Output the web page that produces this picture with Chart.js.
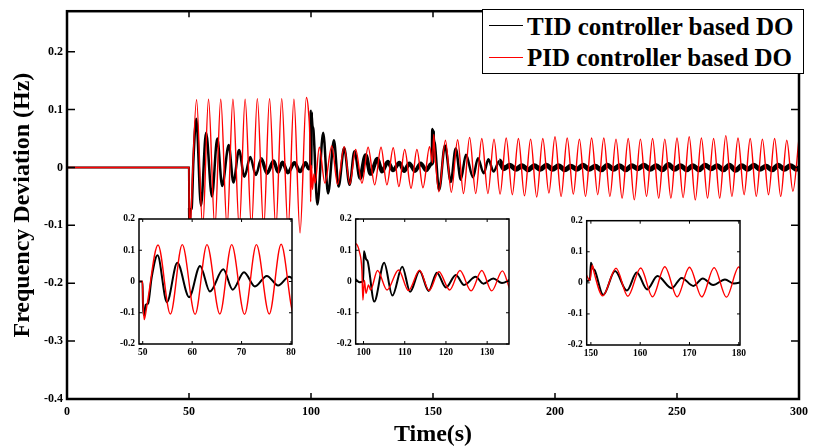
<!DOCTYPE html>
<html>
<head>
<meta charset="utf-8">
<script src="https://cdn.jsdelivr.net/npm/chart.js@4.4.0/dist/chart.umd.min.js"></script>
<style>
  html, body { margin: 0; padding: 0; background: #fff; }
  #wrap { position: relative; width: 814px; height: 447px; overflow: hidden; }
  #wrap canvas { position: absolute; left: 0; top: 0; }
  #legend {
    position: absolute; left: 482px; top: 9px; width: 320px; height: 63px;
    border: 1.5px solid #000; background: #fff;
    font: bold 25px 'Liberation Serif', 'Times New Roman', serif; color: #000;
  }
  #legend .row { position: absolute; left: 44px; line-height: 25px; white-space: nowrap; }
  #legend .swatch { position: absolute; left: 6px; width: 34px; }
</style>
</head>
<body>
<div id="wrap">
  <canvas id="main" width="814" height="447"></canvas>
  <canvas id="inset1" width="814" height="447"></canvas>
  <canvas id="inset2" width="814" height="447"></canvas>
  <canvas id="inset3" width="814" height="447"></canvas>
  <div id="legend">
    <div class="swatch" style="top:15px;border-top:1.6px solid #000"></div>
    <div class="row" style="top:4px">TID controller based DO</div>
    <div class="swatch" style="top:47px;border-top:1px solid #f00"></div>
    <div class="row" style="top:35px">PID controller based DO</div>
  </div>
</div>
<script>
// [time (s), frequency deviation (Hz)]
const tidPart1 = [[0, 0], [49.95, 0], [50.05, -0.07], [50.3, -0.108], [50.6, -0.075], [51.1, -0.07],
  [51.8, 0.012], [53.0, 0.084], [54.9, -0.066], [57.0, 0.060], [59.4, -0.050], [61.6, 0.050],
  [63.6, -0.032], [66.3, 0.039], [68.2, -0.026], [70.5, 0.030], [72.7, -0.016], [75.1, 0.018],
  [77.4, -0.013], [79.6, 0.015], [82.0, -0.010], [84.7, 0.011], [86.5, -0.008], [88.3, 0.009],
  [90.5, -0.009], [93.2, 0.008], [95.5, -0.007], [97.8, 0.008], [99.0, -0.002], [99.9, 0.0]];
const tidPart2 = [[100.1, 0.097], [100.6, 0.072], [101.0, 0.065], [102.6, -0.064], [105.0, 0.060],
  [107.0, -0.045], [109.4, 0.047], [111.3, -0.033], [113.6, 0.034], [115.8, -0.030], [117.8, 0.028],
  [120.0, -0.019], [122.4, 0.021], [124.4, -0.011], [127.2, 0.015], [129.1, -0.007], [131.5, 0.010],
  [133.6, -0.005], [136.2, 0.008], [138.2, -0.006], [140.3, 0.007], [142.6, -0.006], [145.0, 0.007],
  [147.2, -0.005], [149.2, 0.006], [149.8, 0.010]];
const tidPart3 = [[150.0, 0.065], [150.4, 0.047], [150.8, 0.040], [152.5, -0.039], [154.9, 0.038],
  [157.3, -0.025], [159.3, 0.033], [161.4, -0.021], [163.5, 0.022], [166.4, -0.017], [168.4, 0.016],
  [170.8, -0.010], [172.7, 0.014], [174.8, -0.007], [177.2, 0.011], [179.0, -0.002]];
const tidPart4 = [[181.5, 0.004], [184, -0.003], [186.5, 0.003], [189, -0.004], [191.5, 0.003],
  [194, -0.003], [196.5, 0.004], [199, -0.003], [201.5, 0.003], [204, -0.004], [206.5, 0.002],
  [209, -0.003], [211.5, 0.004], [214, -0.003], [216.5, 0.002], [219, -0.004], [221.5, 0.004],
  [224, -0.003], [226.5, 0.003], [229, -0.004], [231.5, 0.003], [234, -0.002], [236.5, 0.004],
  [239, -0.003], [241.5, 0.003], [244, -0.004], [246.5, 0.005], [249, -0.003], [251.5, 0.003],
  [254, -0.004], [256.5, 0.003], [259, -0.004], [261.5, 0.004], [264, -0.002], [266.5, 0.003],
  [269, -0.004], [271.5, 0.004], [274, -0.005], [276.5, 0.003], [279, -0.003], [281.5, 0.004],
  [284, -0.003], [286.5, 0.002], [289, -0.004], [291.5, 0.004], [294, -0.003], [296.5, 0.003],
  [299, -0.003], [300, 0.0]];

const pidPart1 = [[0, 0], [49.95, 0], [50.05, -0.06], [50.3, -0.122], [50.8, -0.082], [53.1, 0.117],
  [55.6, -0.104], [58.0, 0.118], [60.6, -0.105], [63.0, 0.118], [65.6, -0.104], [68.0, 0.118],
  [70.6, -0.105], [73.0, 0.118], [75.6, -0.104], [78.0, 0.119], [80.6, -0.105], [83.0, 0.119],
  [85.6, -0.106], [88.0, 0.119], [90.6, -0.107], [93.0, 0.118], [95.5, -0.113], [98.1, 0.121],
  [99.0, 0.095], [99.6, 0.037]];
const pidPart2 = [[99.85, -0.059], [100.2, 0.004], [100.6, -0.038], [101.2, -0.011], [101.7, -0.027],
  [103.4, 0.035], [105.7, -0.027], [108.5, 0.037], [110.9, -0.029], [113.6, 0.036], [115.9, -0.029],
  [118.3, 0.031], [120.9, -0.027], [123.4, 0.035], [126.1, -0.030], [128.7, 0.035], [131.1, -0.030],
  [133.7, 0.034], [136.0, -0.033], [138.4, 0.031], [141.0, -0.036], [143.4, 0.031], [145.9, -0.035],
  [148.6, 0.036], [149.8, 0.008]];
const pidPart3 = [[150.3, 0.057], [150.6, 0.036], [152.4, -0.042], [155.1, 0.047], [157.5, -0.043],
  [160.1, 0.048], [162.5, -0.045], [165.0, 0.052], [167.5, -0.045], [170.0, 0.050], [172.5, -0.045],
  [175.0, 0.049], [177.5, -0.046], [180.0, 0.051], [182.5, -0.047], [185.0, 0.050], [187.5, -0.049],
  [190.0, 0.049], [192.5, -0.051]];
const pidPart4 = [[195, 0.050], [197.5, -0.044], [200, 0.053], [202.5, -0.050], [205, 0.051],
  [207.5, -0.046], [210, 0.049], [212.5, -0.050], [215, 0.051], [217.5, -0.047], [220, 0.051],
  [222.5, -0.050], [225, 0.049], [227.5, -0.053], [230, 0.050], [232.5, -0.056], [235, 0.049],
  [237.5, -0.050], [240, 0.050], [242.5, -0.053], [245, 0.049], [247.5, -0.053], [250, 0.051],
  [252.5, -0.052], [255, 0.053], [257.5, -0.056], [260, 0.051], [262.5, -0.053], [265, 0.050],
  [267.5, -0.053], [270, 0.055], [272.5, -0.050], [275, 0.051], [277.5, -0.047], [280, 0.050],
  [282.5, -0.050], [285, 0.049], [287.5, -0.047], [290, 0.050], [292.5, -0.050], [295, 0.047],
  [297.5, -0.041], [300, 0.050]];

const mainTimeTicks = [0, 50, 100, 150, 200, 250, 300];
const mainFreqTicks = [-0.4, -0.3, -0.2, -0.1, 0, 0.1, 0.2];
const insetFreqTicks = [-0.2, -0.1, 0, 0.1, 0.2];
const insetTimeTicks = [[50, 60, 70, 80], [100, 110, 120, 130], [150, 160, 170, 180]];
const insetTimeRanges = [[49.25, 80.2], [98.1, 135.3], [149.15, 180.25]];

const toXY = parts => parts.flat().map(([x, y]) => ({ x, y }));
const tidSeries = toXY([tidPart1, tidPart2, tidPart3, tidPart4]);
const pidSeries = toXY([pidPart1, pidPart2, pidPart3, pidPart4]);

// styling
const FONT = "'Liberation Serif', 'Times New Roman', serif";
// [from s, to s, line width] for the black trace in the main plot
const tidWidths = [[0, 50, 2], [78, 100, 3.5], [118, 150, 4], [177, 301, 5]];
const insetBoxes = [
  { left: 139, right: 292, top: 219, bottom: 344 },
  { left: 355.7, right: 509, top: 219, bottom: 344 },
  { left: 586.7, right: 740, top: 220.7, bottom: 345 }
];

const boxFrame = {
  id: 'boxFrame',
  beforeDatasetsDraw(chart, args, opts) {
    if (!opts.fill) return;
    const a = chart.chartArea;
    chart.ctx.save();
    chart.ctx.fillStyle = opts.fill;
    chart.ctx.fillRect(a.left, a.top, a.right - a.left, a.bottom - a.top);
    chart.ctx.restore();
  },
  afterDraw(chart, args, opts) {
    const { ctx, chartArea: a, scales: { x, y } } = chart;
    ctx.save();
    ctx.strokeStyle = '#000';
    ctx.lineWidth = opts.tickWidth;
    ctx.beginPath();
    x.ticks.forEach(t => {
      const px = x.getPixelForValue(t.value);
      ctx.moveTo(px, a.bottom); ctx.lineTo(px, a.bottom - opts.tickX);
      ctx.moveTo(px, a.top); ctx.lineTo(px, a.top + opts.tickX);
    });
    y.ticks.forEach(t => {
      const py = y.getPixelForValue(t.value);
      ctx.moveTo(a.left, py); ctx.lineTo(a.left + opts.tickY, py);
      ctx.moveTo(a.right, py); ctx.lineTo(a.right - opts.tickY, py);
    });
    ctx.stroke();
    ctx.lineWidth = opts.lineWidth;
    ctx.strokeRect(a.left, a.top, a.right - a.left, a.bottom - a.top);
    ctx.restore();
  }
};

// dataset 0 is painted last, so the thin red trace sits over the black one
function datasets(inset) {
  return [
    {
      label: 'PID controller based DO', data: pidSeries,
      borderColor: '#ff0000', borderWidth: 1.4,
      pointRadius: 0, cubicInterpolationMode: 'monotone'
    },
    {
      label: 'TID controller based DO', data: tidSeries,
      borderColor: '#000000', borderWidth: inset ? 2 : 2.5,
      pointRadius: 0, cubicInterpolationMode: 'monotone',
      segment: {
        borderWidth: ctx => {
          if (inset) return 2;
          const t = ctx.p0.parsed.x;
          const band = tidWidths.find(b => t >= b[0] && t < b[1]);
          return band ? band[2] : 2.5;
        }
      }
    }
  ];
}

function axisTicks(size, padding) {
  return {
    padding, color: '#000', autoSkip: false, maxRotation: 0,
    font: { family: FONT, size, weight: 'bold' },
    callback: v => String(v)
  };
}

new Chart(document.getElementById('main'), {
  type: 'line',
  data: { datasets: datasets(false) },
  options: {
    responsive: false, animation: false, devicePixelRatio: 1,
    layout: { padding: { left: 0, top: 9, right: 10, bottom: 0 } },
    plugins: {
      legend: { display: false }, tooltip: { enabled: false },
      boxFrame: { lineWidth: 2.5, tickWidth: 1.5, tickX: 6, tickY: 8 }
    },
    scales: {
      x: {
        type: 'linear', min: 0, max: 300,
        afterBuildTicks: s => { s.ticks = mainTimeTicks.map(v => ({ value: v })); },
        afterFit: s => { s.height = 48; },
        grid: { display: false, drawTicks: false }, border: { display: false },
        ticks: axisTicks(12, 6),
        title: { display: true, text: 'Time(s)', color: '#000', padding: 0,
          font: { family: FONT, size: 24, weight: 'bold', lineHeight: 1 } }
      },
      y: {
        type: 'linear', min: -0.4, max: 0.27,
        afterBuildTicks: s => { s.ticks = mainFreqTicks.map(v => ({ value: v })); },
        afterFit: s => { s.width = 67; },
        grid: { display: false, drawTicks: false }, border: { display: false },
        ticks: axisTicks(12, 4),
        title: { display: true, text: 'Frequency Deviation (Hz)', color: '#000',
          padding: { top: 11, bottom: 0 },
          font: { family: FONT, size: 24, weight: 'bold', lineHeight: 1 } }
      }
    }
  },
  plugins: [boxFrame]
});

insetBoxes.forEach((box, i) => {
  new Chart(document.getElementById('inset' + (i + 1)), {
    type: 'line',
    data: { datasets: datasets(true) },
    options: {
      responsive: false, animation: false, devicePixelRatio: 1,
      layout: { padding: { left: box.left - 30, top: box.top, right: 814 - box.right, bottom: 447 - box.bottom - 20 } },
      plugins: {
        legend: { display: false }, tooltip: { enabled: false },
        boxFrame: { fill: '#ffffff', lineWidth: 1.5, tickWidth: 1, tickX: 3, tickY: 3 }
      },
      scales: {
        x: {
          type: 'linear', min: insetTimeRanges[i][0], max: insetTimeRanges[i][1],
          afterBuildTicks: s => { s.ticks = insetTimeTicks[i].map(v => ({ value: v })); },
          afterFit: s => { s.height = 20; },
          grid: { display: false, drawTicks: false }, border: { display: false },
          ticks: axisTicks(9.5, 3)
        },
        y: {
          type: 'linear', min: -0.2, max: 0.2,
          afterBuildTicks: s => { s.ticks = insetFreqTicks.map(v => ({ value: v })); },
          afterFit: s => { s.width = 30; },
          grid: { display: false, drawTicks: false }, border: { display: false },
          ticks: axisTicks(9.5, 4)
        }
      }
    },
    plugins: [boxFrame]
  });
});
</script>
</body>
</html>
